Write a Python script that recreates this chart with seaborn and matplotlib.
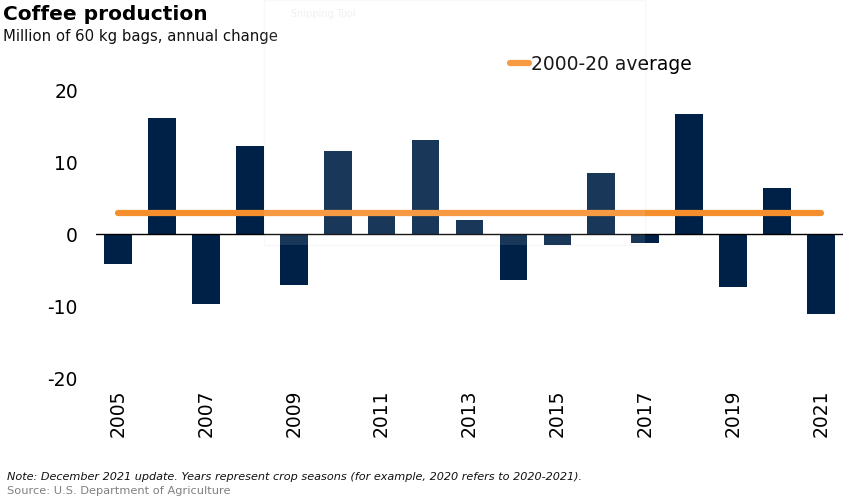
import matplotlib
matplotlib.use('Agg')
import matplotlib.pyplot as plt
from matplotlib.patches import Rectangle
import pandas as pd
import seaborn as sns

# Values
years = [2005, 2006, 2007, 2008, 2009, 2010, 2011, 2012, 2013, 2014, 2015, 2016, 2017, 2018, 2019, 2020, 2021]
change = [-4.1, 16.1, -9.7, 12.2, -7.1, 11.5, 2.9, 13.1, 2.0, -6.4, -1.5, 8.5, -1.2, 16.7, -7.4, 6.4, -11.1]
avg_years = [2005, 2021]
avg_values = [2.9, 2.9]
y_ticks = [-20, -10, 0, 10, 20]
x_ticks = [2005, 2007, 2009, 2011, 2013, 2015, 2017, 2019, 2021]

W, H = 848, 500
NAVY = '#002147'
ORANGE = '#F58F2E'

sns.set_style('white')
plt.rcParams['font.family'] = ['DejaVu Sans']
plt.rcParams['axes.unicode_minus'] = False
plt.rcParams['text.color'] = 'black'
plt.rcParams['xtick.color'] = 'black'
plt.rcParams['ytick.color'] = 'black'

df = pd.DataFrame({'Year': years, 'Change': change})
avg_df = pd.DataFrame({'Year': avg_years, 'Average': avg_values})

fig = plt.figure(figsize=(W / 100, H / 100), dpi=100)
ax = fig.add_axes([96 / W, 1 - 378 / H, (843 - 96) / W, (378 - 90) / H])
ax.patch.set_visible(False)

sns.barplot(data=df, x='Year', y='Change', native_scale=True, color=NAVY, saturation=1,
            width=0.63, linewidth=0, ax=ax, zorder=2)
sns.lineplot(data=avg_df, x='Year', y='Average', color=ORANGE, linewidth=4.5, ax=ax, zorder=3,
             solid_capstyle='round', label='2000-20 average')

ax.axhline(0, color='black', linewidth=1, zorder=2.5)
ax.set_xlim(2004.5, 2021.5)
ax.set_ylim(-20, 20)
ax.set_xticks(x_ticks)
ax.set_yticks(y_ticks)
ax.set_xlabel('')
ax.set_ylabel('')
ax.tick_params(axis='x', length=0, pad=8, labelsize=13.5, labelrotation=90)
ax.tick_params(axis='y', length=0, pad=13, labelsize=13.5)
sns.despine(ax=ax, left=True, bottom=True)

ax.legend(loc='center left', bbox_to_anchor=(510 / W, 1 - 64 / H), bbox_transform=fig.transFigure,
          frameon=False, fontsize=13.5, handlelength=1.0, handletextpad=0.1, borderpad=0, borderaxespad=0)

# Titles and footer
fig.text(3 / W, 1 - 15 / H, 'Coffee production', fontsize=14.5, fontweight='bold', va='center', color='black')
fig.text(3 / W, 1 - 36 / H, 'Million of 60 kg bags, annual change', fontsize=10.7, va='center', color='#111111')
fig.text(7 / W, 1 - 477 / H, 'Note: December 2021 update. Years represent crop seasons (for example, 2020 refers to 2020-2021).',
         fontsize=8.15, style='italic', va='center', color='#111111')
fig.text(7 / W, 1 - 491 / H, 'Source: U.S. Department of Agriculture', fontsize=8.2, va='center', color='#808080')

# Faint screenshot ghost: border under the chart, light veil over it
fig.patches.append(Rectangle((264 / W, 1 - 245 / H), (645 - 264) / W, 245 / H, transform=fig.transFigure,
                             figure=fig, facecolor='none', edgecolor='#f8f8f8', linewidth=1, zorder=-1))
fig.add_artist(Rectangle((264 / W, 1 - 245 / H), (645 - 264) / W, 245 / H, transform=fig.transFigure,
                         facecolor='white', alpha=0.1, edgecolor='none', zorder=5))
fig.text(291 / W, 1 - 14 / H, 'Snipping Tool', fontsize=7, va='center', color='#f0f0f0', zorder=6)

fig.savefig('out.png', dpi=100)
